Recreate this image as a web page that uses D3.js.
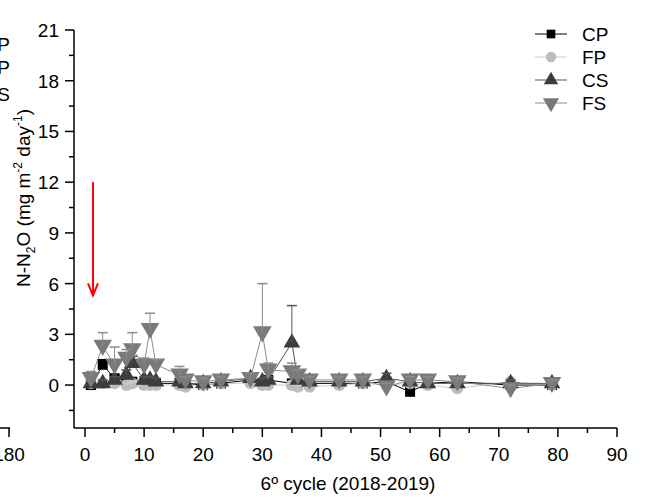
<!DOCTYPE html>
<html>
<head>
<meta charset="utf-8">
<script src="https://cdn.jsdelivr.net/npm/d3@7"></script>
<style>
  body { margin: 0; background: #fff; }
  svg text { font-family: "Liberation Sans", Arial, sans-serif; }
</style>
</head>
<body>
<svg id="chart" width="649" height="501"></svg>
<script>
// sampling days of the 6th cycle
const days = [1, 3, 5, 7, 8, 10, 11, 12, 16, 17, 20, 23, 28, 30, 31, 35, 36, 38, 43, 47, 51, 55, 58, 63, 72, 79];

// N-N2O fluxes (mg m-2 day-1) per treatment
const cpValues = [0.0, 1.2, 0.4, 0.3, 0.2, 0.1, 0.1, 0.1, 0.1, 0.1, 0.0, 0.1, 0.3, 0.1, 0.3, 0.1, 0.0, 0.1, 0.1, 0.1, 0.2, -0.4, 0.1, 0.2, 0.0, 0.0];
const cpErrors = [0.2, 0.3, 0.2, 0.2, 0.2, 0.1, 0.1, 0.1, 0.1, 0.1, 0.1, 0.1, 0.2, 0.1, 0.2, 0.1, 0.1, 0.1, 0.1, 0.1, 0.2, 0.2, 0.1, 0.2, 0.1, 0.1];
const fpValues = [0.1, 0.1, 0.1, 0.0, 0.1, 0.0, 0.0, 0.0, 0.0, -0.1, 0.0, 0.1, 0.1, 0.0, 0.0, 0.0, -0.1, -0.1, 0.0, 0.1, 0.0, 0.1, 0.0, -0.2, 0.2, 0.0];
const fpErrors = [0.2, 0.1, 0.1, 0.1, 0.1, 0.1, 0.1, 0.1, 0.1, 0.1, 0.1, 0.1, 0.1, 0.1, 0.1, 0.1, 0.1, 0.1, 0.1, 0.1, 0.1, 0.1, 0.1, 0.1, 0.1, 0.1];
const csValues = [0.1, 0.1, 0.3, 0.6, 1.3, 0.3, 0.3, 0.2, 0.2, 0.1, 0.1, 0.2, 0.4, 0.2, 0.3, 2.5, 0.3, 0.2, 0.2, 0.2, 0.4, 0.2, 0.1, 0.1, 0.1, 0.1];
const csErrors = [0.2, 0.2, 0.2, 0.3, 0.4, 0.2, 0.2, 0.2, 0.2, 0.2, 0.2, 0.2, 0.3, 0.2, 0.2, 2.2, 0.3, 0.2, 0.2, 0.2, 0.3, 0.2, 0.2, 0.2, 0.2, 0.2];
const fsValues = [0.4, 2.3, 1.2, 1.6, 2.1, 1.2, 3.3, 1.2, 0.6, 0.3, 0.2, 0.3, 0.4, 3.1, 0.9, 0.8, 0.6, 0.3, 0.3, 0.3, -0.1, 0.3, 0.3, 0.2, -0.2, 0.1];
const fsErrors = [0.4, 0.8, 1.05, 0.5, 1.0, 0.4, 0.95, 0.3, 0.5, 0.2, 0.2, 0.2, 0.3, 2.9, 0.4, 0.5, 0.3, 0.2, 0.2, 0.2, 0.2, 0.2, 0.2, 0.2, 0.2, 0.2];

const xTicks = [0, 10, 20, 30, 40, 50, 60, 70, 80, 90];
const yTicks = [0, 3, 6, 9, 12, 15, 18, 21];

const series = [
  { name: 'CP', values: cpValues, errors: cpErrors, color: '#000000', line: '#000000', symbol: d3.symbolSquare, size: 100 },
  { name: 'FP', values: fpValues, errors: fpErrors, color: '#bdbdbd', line: '#cccccc', symbol: d3.symbolCircle, size: 110 },
  { name: 'CS', values: csValues, errors: csErrors, color: '#3c3c3c', line: '#555555', symbol: d3.symbolTriangle, size: 120, rot: 0 },
  { name: 'FS', values: fsValues, errors: fsErrors, color: '#7a7a7a', line: '#8c8c8c', symbol: d3.symbolTriangle, size: 150, rot: 180 }
];

const FONT = 19;
const svg = d3.select('#chart');

// plot area
const x = d3.scaleLinear().domain([-1.86, 90]).range([74, 617]);
const y = d3.scaleLinear().domain([-2.54, 21]).range([428, 30]);

// x axis
const xAxis = svg.append('g').attr('transform', 'translate(0,428)');
xAxis.append('line').attr('x1', 74).attr('x2', x(90)).attr('stroke', '#000').attr('stroke-width', 1.5);
d3.range(0, 91, 5).forEach(v => {
  const major = v % 10 === 0;
  xAxis.append('line')
    .attr('x1', x(v)).attr('x2', x(v))
    .attr('y1', 0).attr('y2', major ? 9 : 5)
    .attr('stroke', '#000').attr('stroke-width', 1.5);
});
xAxis.selectAll('.xl').data(xTicks).enter().append('text')
  .attr('x', d => x(d)).attr('y', 33)
  .attr('text-anchor', 'middle').attr('font-size', FONT)
  .text(d => d);

// y axis
const yAxis = svg.append('g');
yAxis.append('line').attr('x1', 74).attr('x2', 74).attr('y1', 428).attr('y2', 30)
  .attr('stroke', '#000').attr('stroke-width', 1.5);
d3.range(-1.5, 21.1, 1.5).forEach(v => {
  const major = Math.abs(v % 3) < 1e-9;
  yAxis.append('line')
    .attr('x1', major ? 65 : 69).attr('x2', 74)
    .attr('y1', y(v)).attr('y2', y(v))
    .attr('stroke', '#000').attr('stroke-width', 1.5);
});
yAxis.selectAll('.yl').data(yTicks).enter().append('text')
  .attr('x', 59).attr('y', d => y(d) + 7)
  .attr('text-anchor', 'end').attr('font-size', FONT)
  .text(d => d);

// axis titles
svg.append('text')
  .attr('x', 348).attr('y', 490)
  .attr('text-anchor', 'middle').attr('font-size', FONT)
  .text('6º cycle (2018-2019)');

const yTitle = svg.append('text')
  .attr('transform', 'translate(30,198) rotate(-90)')
  .attr('text-anchor', 'middle').attr('font-size', FONT);
yTitle.append('tspan').text('N-N');
yTitle.append('tspan').attr('font-size', 12).attr('dy', 5).text('2');
yTitle.append('tspan').attr('dy', -5).text('O (mg m');
yTitle.append('tspan').attr('font-size', 12).attr('dy', -8).text('-2');
yTitle.append('tspan').attr('dy', 8).text(' day');
yTitle.append('tspan').attr('font-size', 12).attr('dy', -8).text('-1');
yTitle.append('tspan').attr('dy', 8).text(')');

// fragment of the neighbouring panel, cut by the figure edge
const frag = svg.append('g');
frag.append('line').attr('x1', 0).attr('x2', 10).attr('y1', 428).attr('y2', 428).attr('stroke', '#000').attr('stroke-width', 1.5);
frag.append('line').attr('x1', 9).attr('x2', 9).attr('y1', 428).attr('y2', 437).attr('stroke', '#000').attr('stroke-width', 1.5);
frag.append('text').attr('x', 9).attr('y', 461).attr('text-anchor', 'middle').attr('font-size', FONT).text('180');
[['CP', 51], ['FP', 74], ['CS', 101]].forEach(([t, yy]) => {
  frag.append('text').attr('x', 10).attr('y', yy).attr('text-anchor', 'end').attr('font-size', FONT).text(t);
});

// red arrow (treatment application)
svg.append('line')
  .attr('x1', x(1.35)).attr('x2', x(1.35))
  .attr('y1', y(12)).attr('y2', y(5.3))
  .attr('stroke', '#ff0000').attr('stroke-width', 2);
svg.append('path')
  .attr('d', `M${x(1.35) - 5},${y(5.3) - 12} L${x(1.35)},${y(5.3)} L${x(1.35) + 5},${y(5.3) - 12}`)
  .attr('fill', 'none').attr('stroke', '#ff0000').attr('stroke-width', 2);

// connecting lines
const line = d3.line().x(d => x(d[0])).y(d => y(d[1]));
series.forEach(s => {
  svg.append('path')
    .datum(days.map((d, i) => [d, s.values[i]]))
    .attr('d', line)
    .attr('fill', 'none').attr('stroke', s.line).attr('stroke-width', 1);
});

// markers and error bars
series.forEach(s => {
  const g = svg.append('g');
  const sym = d3.symbol().type(s.symbol).size(s.size);
  g.selectAll('path').data(days).enter().append('path')
    .attr('d', sym)
    .attr('transform', (d, i) => `translate(${x(d)},${y(s.values[i]) + (s.rot === 180 ? -1 : 0)}) rotate(${s.rot || 0})`)
    .attr('fill', s.color);
  days.forEach((d, i) => {
    const top = y(s.values[i] + s.errors[i]);
    g.append('line')
      .attr('x1', x(d)).attr('x2', x(d))
      .attr('y1', y(s.values[i])).attr('y2', top)
      .attr('stroke', s.line).attr('stroke-width', 1);
    g.append('line')
      .attr('x1', x(d) - 5).attr('x2', x(d) + 5)
      .attr('y1', top).attr('y2', top)
      .attr('stroke', s.line).attr('stroke-width', 1.5);
  });
});

// legend
const legend = svg.append('g');
series.forEach((s, i) => {
  const yy = 34 + i * 23;
  legend.append('line').attr('x1', 535).attr('x2', 567).attr('y1', yy).attr('y2', yy)
    .attr('stroke', s.line).attr('stroke-width', 1);
  legend.append('path')
    .attr('d', d3.symbol().type(s.symbol).size(s.size * 0.75)())
    .attr('transform', `translate(551,${yy}) rotate(${s.rot || 0})`)
    .attr('fill', s.color);
  legend.append('text').attr('x', 582).attr('y', yy + 7).attr('font-size', FONT).text(s.name);
});
</script>
</body>
</html>
